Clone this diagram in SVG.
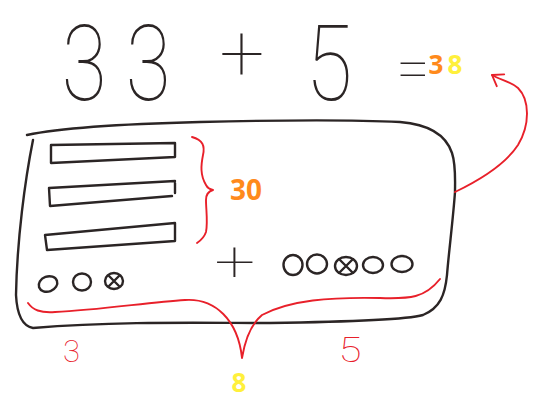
<svg xmlns="http://www.w3.org/2000/svg" width="542" height="410" viewBox="0 0 542 410">
<defs>
<style>
.ink{fill:none;stroke:#2b2525;stroke-width:2.4;stroke-linecap:round;stroke-linejoin:round}
.red{fill:none;stroke:#e8202a;stroke-width:1.9;stroke-linecap:round;stroke-linejoin:round}
.hand{font-family:Roboto,Inter,"Open Sans","DejaVu Sans",sans-serif;font-weight:100;fill:#2b2525;text-anchor:middle}
.handred{font-family:Roboto,Inter,"Open Sans","DejaVu Sans",sans-serif;font-weight:100;fill:#e8202a;text-anchor:middle}
.num{font-family:"Open Sans","Noto Sans","Liberation Sans",sans-serif;font-weight:700;text-anchor:middle}
</style>
<marker id="chev" viewBox="-1 -2 14 18" markerWidth="14" markerHeight="18" refX="10" refY="7" orient="auto" markerUnits="userSpaceOnUse" overflow="visible">
<path d="M0,0 L10,7 L0,14" fill="none" stroke="#e8202a" stroke-width="1.9" stroke-linecap="round" stroke-linejoin="round"/>
</marker>
</defs>
<rect width="542" height="410" fill="#ffffff"/>

<g id="equation">
<text class="hand" font-size="105" transform="translate(0,100) scale(0.78,1)"><tspan x="108">3</tspan><tspan x="190">3</tspan></text>
<text class="hand" font-size="80" x="242" y="80">+</text>
<text class="hand" font-size="105" transform="translate(329,100) scale(0.81,1)" x="0" y="0">5</text>
<text class="hand" font-size="60" x="413" y="89">=</text>
<text class="num" font-size="26" x="436" y="74" fill="#ff8a1c">3</text>
<text class="num" font-size="26" x="455" y="74" fill="#fff03c">8</text>
</g>

<g id="box">
<path class="ink" d="M27,135 C60,128 120,124 200,122 C280,120 360,120 400,122 C425,124 445,132 452,153 C456,165 455,180 455,192 C453,220 449,250 447,275 C445,295 440,308 423,315 C405,320 340,322 270,323 C200,323 120,321 33,328 C22,326 17,315 16,295 C17,240 25,180 33,140"/>
</g>

<g id="bars">
<path class="ink" d="M51,145 L175,143 L175,157 L51,163 Z"/>
<path class="ink" d="M49,188 L175,181 M175,183 L175,193 M172,196 L50,206 L49,188"/>
<path class="ink" d="M45,235 L175,223 L175,241 L47,250 Z"/>
</g>

<g id="ones-left">
<ellipse class="ink" cx="48" cy="284" rx="9.5" ry="7.5" transform="rotate(-20 48 284)"/>
<ellipse class="ink" cx="82" cy="282" rx="9" ry="8.5"/>
<ellipse class="ink" cx="114" cy="281" rx="9" ry="8"/>
<path class="ink" d="M109,276 L119,286 M119,276 L109,286"/>
</g>

<g id="plus-mid">
<text class="hand" font-size="58" transform="translate(235,281) scale(1.25,1)" x="0" y="0">+</text>
</g>

<g id="ones-right">
<ellipse class="ink" cx="293" cy="265" rx="9.5" ry="10"/>
<ellipse class="ink" cx="317" cy="264" rx="10" ry="9.5"/>
<ellipse class="ink" cx="346" cy="266" rx="11" ry="9"/>
<path class="ink" d="M339,259 L353,273 M353,259 L339,273"/>
<ellipse class="ink" cx="373" cy="265" rx="10" ry="8"/>
<ellipse class="ink" cx="402" cy="264" rx="10.5" ry="8"/>
</g>

<g id="label-30">
<text class="num" font-size="28" x="246" y="200" fill="#ff8a1c">30</text>
</g>

<g id="labels-bottom">
<text class="handred" font-size="31" x="71.5" y="362">3</text>
<text class="handred" font-size="35" transform="translate(350,362) scale(1.2,1)" x="0" y="0">5</text>
<text class="num" font-size="26" x="239" y="392" fill="#fff03c">8</text>
</g>

<g id="connectors">
<path class="red" d="M192,137 C203,140 205,146 203,155 C201,165 200,175 206,185 Q208,189 213,190 Q206,192 206,200 C206,210 208,222 206,232 C204,238 200,241 197,243"/>
<path class="red" d="M28,303 C33,310 40,313 55,312 C100,310 150,302 185,300 C215,298 238,320 242,358 C245,340 250,325 262,315 C290,300 330,297 380,298 C410,299 425,298 440,279"/>
<path class="red" marker-end="url(#chev)" d="M455,192 C480,180 505,165 518,145 C530,125 530,100 518,88 C510,81 500,80 492,75"/>
</g>
</svg>
